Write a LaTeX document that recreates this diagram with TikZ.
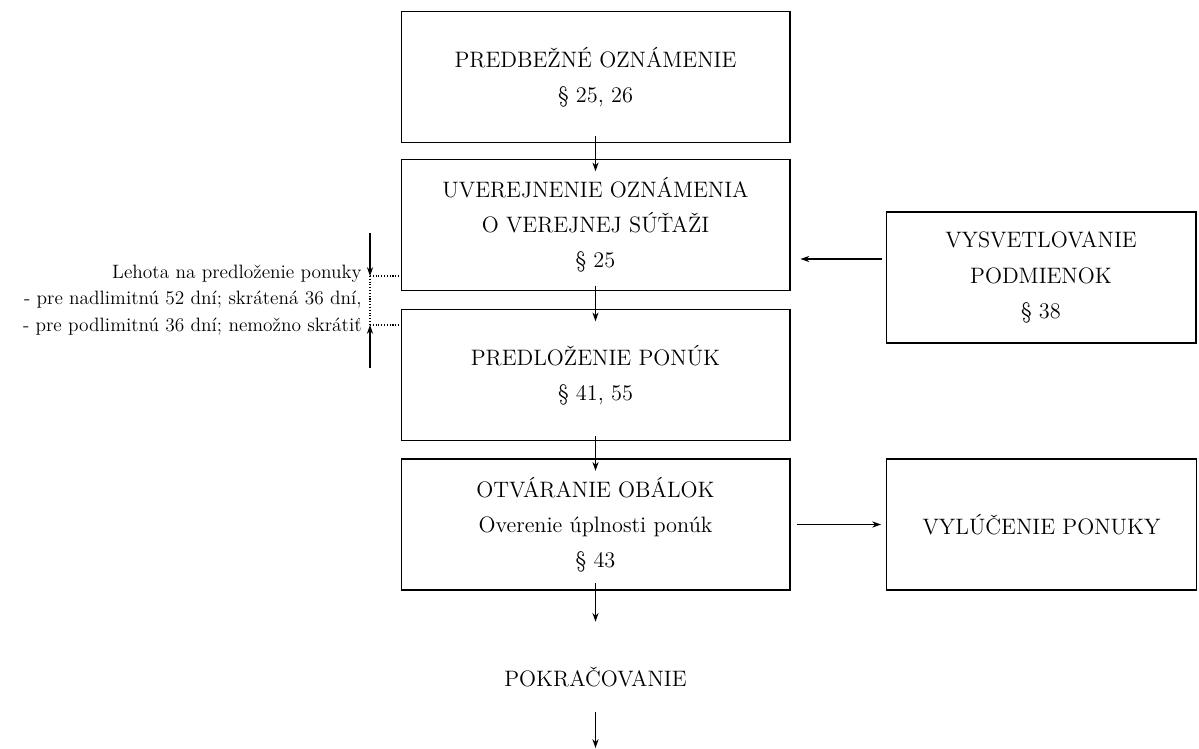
\documentclass[tikz,border=0pt]{standalone}
\usepackage{fontspec}
\usepackage{tikz}
\usetikzlibrary{arrows.meta}

\begin{document}
\begin{tikzpicture}[x=0.02cm,y=-0.02cm]
\tikzstyle{box}=[draw, line width=0.6pt, inner sep=0pt, minimum width=7.78cm, minimum height=2.62cm, align=center, font=\fontsize{12.7}{20}\selectfont]
\tikzstyle{sidebox}=[box, minimum width=6.2cm]
\tikzstyle{arr}=[-{Stealth[length=5pt,width=3.5pt]}, line width=0.6pt]
\tikzstyle{dots}=[densely dotted, line width=0.6pt]
\useasboundingbox (0,0) rectangle (1199,749);
% main column
\node[box] (pred) at (595.5,77) {PREDBEŽNÉ OZNÁMENIE\\ § 25, 26};
\node[box] (uver) at (595.5,225) {UVEREJNENIE OZNÁMENIA\\ O VEREJNEJ SÚŤAŽI\\ § 25};
\node[box] (predl) at (595.5,375) {PREDLOŽENIE PONÚK\\ § 41, 55};
\node[box] (otv) at (595.5,524.5) {OTVÁRANIE OBÁLOK\\ Overenie úplnosti ponúk\\ § 43};
\node[font=\fontsize{12.7}{20}\selectfont, inner sep=0pt, minimum height=1.4cm] (pokr) at (595.5,677) {POKRAČOVANIE};
\coordinate (koniec) at (595.5,748);
% side boxes
\node[sidebox] (vysv) at (1041,277.5) {VYSVETLOVANIE\\ PODMIENOK\\ § 38};
\node[sidebox] (vyl) at (1041.5,524.5) {VYLÚČENIE PONUKY};
% arrows
\draw[arr, shorten <=-4pt, shorten >=-7pt] (pred) -- (uver);
\draw[arr, shorten <=-3pt, shorten >=-7pt] (uver) -- (predl);
\draw[arr, shorten <=-3pt, shorten >=-7pt] (predl) -- (otv);
\draw[arr, shorten <=-4pt, shorten >=0.4cm] (otv) -- (pokr);
\draw[arr] (pokr) -- (koniec);
\coordinate (hlad) at (0,259);
\draw[arr, shorten <=0.08cm, shorten >=0.2cm] (vysv.west |- hlad) -- (uver.east |- hlad);
\draw[arr, shorten <=0.12cm, shorten >=0.1cm] (otv) -- (vyl);
% lehota
\coordinate (dtop) at (370,233);
\coordinate (dbot) at (370,368);
\coordinate (ext1) at (370,276);
\coordinate (ext2) at (370,325);
\draw[arr] (dtop) -- (ext1);
\draw[arr] (dbot) -- (ext2);
\draw[dots] (ext1) -- (ext2);
\draw[dots] (ext1) -- (uver.west |- ext1);
\draw[dots] (ext2) -- (predl.west |- ext2);
\node[anchor=east, align=right, inner sep=0pt, font=\fontsize{11}{15}\selectfont] (lehota) at (362,300) {Lehota na predloženie ponuky\\ - pre nadlimitnú 52 dní; skrátená 36 dní,\\ - pre podlimitnú 36 dní; nemožno skrátiť};
\end{tikzpicture}
\end{document}
